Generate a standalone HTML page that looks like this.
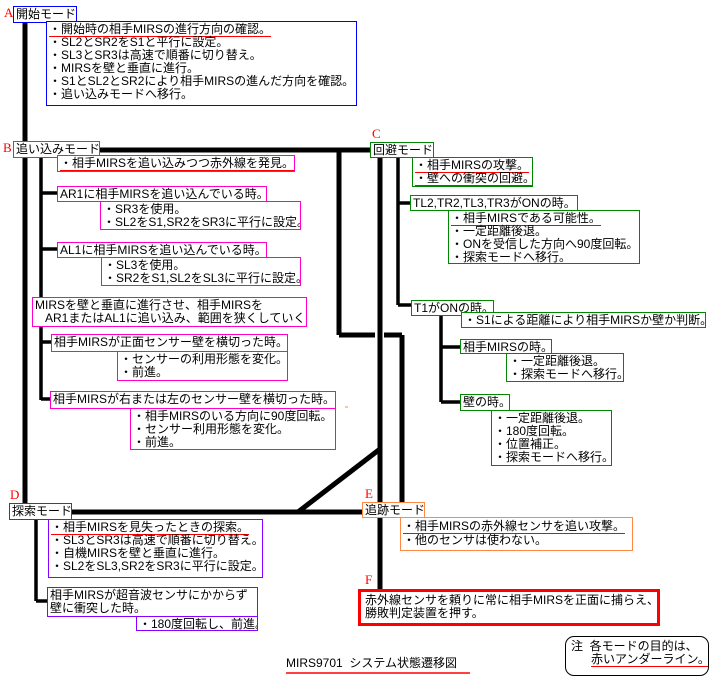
<!DOCTYPE html>
<html><head><meta charset="utf-8">
<style>
body{margin:0;background:#fff;}
#c{position:relative;width:723px;height:689px;overflow:hidden;font-family:"Liberation Sans","Noto Sans CJK JP",sans-serif;font-size:12px;line-height:13px;color:#000;}
.b{position:absolute;box-sizing:border-box;border:1px solid;background:#fff;white-space:pre;padding:1px 2px;overflow:hidden;}
.bl{border-color:#0000ff}.mg{border-color:#ff00cc}.gr{border-color:#008800}.pu{border-color:#8800ff}.or{border-color:#ff8844}
.u{border-bottom:1.5px solid #ff0000;}
.L{position:absolute;color:#ff0000;font-family:"Liberation Serif",serif;font-size:13px;}
svg{position:absolute;left:0;top:0;}
</style></head><body><div id="c">
<svg width="723" height="689">
<g stroke="#000" stroke-width="5" fill="none">
<line x1="25" y1="20" x2="25" y2="505"/>
<line x1="98" y1="150" x2="372" y2="150"/>
<line x1="339" y1="150" x2="339" y2="335"/>
<line x1="339" y1="335" x2="375" y2="335"/>
<line x1="384" y1="335" x2="402" y2="335"/>
<line x1="402" y1="335" x2="402" y2="503"/>
<line x1="380" y1="157" x2="380" y2="590"/>
<line x1="70" y1="512" x2="364" y2="512"/>
<line x1="298" y1="512" x2="380" y2="449"/>
</g>
<g stroke="#000" stroke-width="3.5" fill="none">
<line x1="41" y1="157" x2="41" y2="400"/>
<line x1="41" y1="193" x2="58" y2="193"/>
<line x1="41" y1="249" x2="58" y2="249"/>
<line x1="41" y1="342" x2="52" y2="342"/>
<line x1="41" y1="399" x2="51" y2="399"/>
<line x1="398" y1="157" x2="398" y2="305"/>
<line x1="398" y1="203" x2="411" y2="203"/>
<line x1="398" y1="305" x2="412" y2="305"/>
<line x1="441" y1="315" x2="441" y2="402"/>
<line x1="441" y1="347" x2="461" y2="347"/>
<line x1="441" y1="402" x2="461" y2="402"/>
<line x1="36" y1="519" x2="36" y2="601"/>
<line x1="36" y1="601" x2="48" y2="601"/>
</g>
<line x1="286" y1="673" x2="470" y2="673" stroke="#ff0000" stroke-width="1.5"/>
<line x1="345" y1="407" x2="348" y2="407" stroke="#ff8844" stroke-width="1"/>
</svg>

<div class="L" style="left:4px;top:6px">A</div>
<div class="b bl" style="left:13px;top:6px;width:64px;height:17px;padding-top:1px">開始モード</div>
<div class="b bl" style="left:46px;top:21px;width:311px;height:85px"><span class="u">・開始時の相手MIRSの進行方向の確認。</span>
・SL2とSR2をS1と平行に設定。
・SL3とSR3は高速で順番に切り替え。
・MIRSを壁と垂直に進行。
・S1とSL2とSR2により相手MIRSの進んだ方向を確認。
・追い込みモードへ移行。</div>

<div class="L" style="left:3px;top:141px">B</div>
<div class="b mg" style="left:13px;top:141px;width:87px;height:17px">追い込みモード</div>
<div class="b mg" style="left:57px;top:155px;width:238px;height:17px"><span class="u">・相手MIRSを追い込みつつ赤外線を発見。</span></div>
<div class="b mg" style="left:57px;top:186px;width:210px;height:16px">AR1に相手MIRSを追い込んでいる時。</div>
<div class="b mg" style="left:100px;top:201px;width:201px;height:29px">・SR3を使用。
・SL2をS1,SR2をSR3に平行に設定。</div>
<div class="b mg" style="left:57px;top:242px;width:210px;height:16px">AL1に相手MIRSを追い込んでいる時。</div>
<div class="b mg" style="left:101px;top:257px;width:200px;height:29px">・SL3を使用。
・SR2をS1,SL2をSL3に平行に設定。</div>
<div class="b mg" style="left:32px;top:297px;width:275px;height:30px">MIRSを壁と垂直に進行させ、相手MIRSを
   AR1またはAL1に追い込み、範囲を狭くしていく。</div>
<div class="b mg" style="left:51px;top:334px;width:237px;height:18px">相手MIRSが正面センサー壁を横切った時。</div>
<div class="b mg" style="left:117px;top:351px;width:171px;height:30px">・センサーの利用形態を変化。
・前進。</div>
<div class="b mg" style="left:50px;top:391px;width:286px;height:18px">相手MIRSが右または左のセンサー壁を横切った時。</div>
<div class="b mg" style="left:130px;top:408px;width:206px;height:42px">・相手MIRSのいる方向に90度回転。
・センサー利用形態を変化。
・前進。</div>

<div class="L" style="left:372px;top:127px">C</div>
<div class="b gr" style="left:370px;top:142px;width:64px;height:16px">回避モード</div>
<div class="b gr" style="left:412px;top:157px;width:121px;height:30px"><span class="u">・相手MIRSの攻撃。</span>
<span class="u">・壁への衝突の回避。</span></div>
<div class="b gr" style="left:410px;top:195px;width:168px;height:16px">TL2,TR2,TL3,TR3がONの時。</div>
<div class="b gr" style="left:448px;top:210px;width:192px;height:54px"><span class="u">・相手MIRSである可能性。</span>
・一定距離後退。
・ONを受信した方向へ90度回転。
・探索モードへ移行。</div>
<div class="b gr" style="left:411px;top:300px;width:83px;height:16px">T1がONの時。</div>
<div class="b gr" style="left:461px;top:312px;width:245px;height:16px"><span class="u">・S1による距離により相手MIRSか壁か判断。</span></div>
<div class="b gr" style="left:460px;top:339px;width:92px;height:15px">相手MIRSの時。</div>
<div class="b gr" style="left:506px;top:353px;width:118px;height:29px">・一定距離後退。
・探索モードへ移行。</div>
<div class="b gr" style="left:460px;top:394px;width:50px;height:17px">壁の時。</div>
<div class="b gr" style="left:491px;top:410px;width:121px;height:56px">・一定距離後退。
・180度回転。
・位置補正。
・探索モードへ移行。</div>

<div class="L" style="left:10px;top:488px">D</div>
<div class="b pu" style="left:9px;top:503px;width:63px;height:17px">探索モード</div>
<div class="b pu" style="left:48px;top:519px;width:215px;height:59px"><span class="u">・相手MIRSを見失ったときの探索。</span>
・SL3とSR3は高速で順番に切り替え。
・自機MIRSを壁と垂直に進行。
・SL2をSL3,SR2をSR3に平行に設定。</div>
<div class="b pu" style="left:47px;top:587px;width:211px;height:30px">相手MIRSが超音波センサにかからず
壁に衝突した時。</div>
<div class="b pu" style="left:136px;top:616px;width:122px;height:15px">・180度回転し、前進。</div>

<div class="L" style="left:365px;top:487px">E</div>
<div class="b or" style="left:362px;top:502px;width:63px;height:16px">追跡モード</div>
<div class="b or" style="left:400px;top:517px;width:233px;height:34px;line-height:14px"><span class="u">・相手MIRSの赤外線センサを追い攻撃。</span>
・他のセンサは使わない。</div>

<div class="L" style="left:365px;top:573px">F</div>
<div class="b" style="left:358px;top:589px;width:302px;height:37px;border:3px solid #ff0000;padding:2px 4px">赤外線センサを頼りに常に相手MIRSを正面に捕らえ、
勝敗判定装置を押す。</div>

<div style="position:absolute;left:286px;top:657px;white-space:pre">MIRS9701  システム状態遷移図</div>
<div class="b" style="left:565px;top:636px;width:144px;height:40px;border:1px solid #000;border-radius:9px;padding:3px 5px">注  各モードの目的は、
      <span class="u">赤いアンダーライン。</span></div>
</div></body></html>
